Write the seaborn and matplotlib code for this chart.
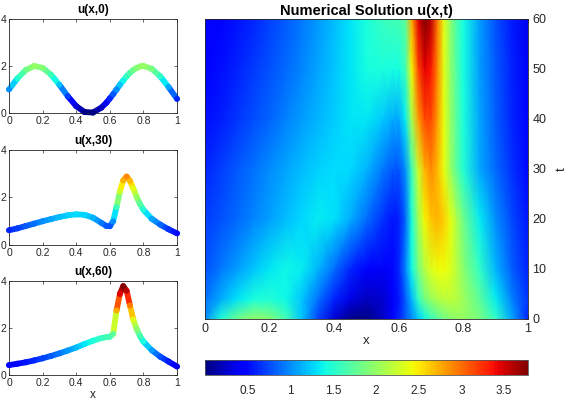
import numpy as np
import pandas as pd
import matplotlib
matplotlib.use('Agg')
import matplotlib.pyplot as plt
import seaborn as sns
from matplotlib.collections import LineCollection

# grid (finer around the peak)
x_grid = [0, 0.05, 0.1, 0.15, 0.2, 0.25, 0.3, 0.35, 0.4, 0.45, 0.5, 0.55, 0.58,
          0.6, 0.62, 0.64, 0.66, 0.68, 0.7, 0.72, 0.74, 0.76, 0.78, 0.8,
          0.85, 0.9, 0.95, 1.0]
t_grid = [0, 4, 10, 20, 30, 40, 50, 60]

# u(x,t) rows, estimated from the profiles and the colour map
u_t0 = [1.00, 1.47, 1.83, 2.00, 1.92, 1.63, 1.20, 0.71, 0.29, 0.04, 0.02, 0.23, 0.44,
        0.62, 0.80, 1.00, 1.20, 1.38, 1.56, 1.71, 1.83, 1.92, 1.98, 2.00,
        1.88, 1.56, 1.10, 0.60]
u_t4 = [0.90, 1.12, 1.32, 1.44, 1.47, 1.40, 1.20, 0.90, 0.60, 0.35, 0.22, 0.28, 0.40,
        0.55, 0.80, 1.15, 1.55, 1.85, 2.02, 2.12, 2.18, 2.20, 2.15, 2.05,
        1.75, 1.35, 0.95, 0.65]
u_t10 = [0.78, 0.93, 1.06, 1.20, 1.33, 1.40, 1.35, 1.15, 0.88, 0.62, 0.42, 0.40, 0.50,
         0.62, 0.95, 1.40, 1.85, 2.15, 2.32, 2.42, 2.42, 2.32, 2.15, 1.95,
         1.55, 1.15, 0.82, 0.60]
u_t20 = [0.70, 0.78, 0.87, 0.97, 1.07, 1.18, 1.28, 1.35, 1.30, 1.12, 0.88, 0.65, 0.56,
         0.58, 0.85, 1.45, 2.05, 2.45, 2.65, 2.72, 2.62, 2.38, 2.10, 1.82,
         1.35, 1.00, 0.75, 0.55]
u_t30 = [0.62, 0.70, 0.80, 0.90, 1.00, 1.09, 1.18, 1.25, 1.29, 1.27, 1.15, 0.93, 0.80,
         0.79, 1.00, 1.60, 2.25, 2.72, 2.88, 2.70, 2.38, 2.02, 1.72, 1.48,
         1.10, 0.86, 0.66, 0.49]
u_t40 = [0.52, 0.59, 0.67, 0.76, 0.85, 0.95, 1.05, 1.15, 1.24, 1.32, 1.33, 1.22, 1.12,
         1.10, 1.35, 2.10, 2.80, 3.15, 3.15, 2.80, 2.38, 2.00, 1.70, 1.45,
         1.08, 0.82, 0.62, 0.44]
u_t50 = [0.46, 0.53, 0.60, 0.68, 0.77, 0.87, 0.97, 1.08, 1.20, 1.32, 1.42, 1.45, 1.42,
         1.42, 1.60, 2.45, 3.15, 3.45, 3.35, 2.88, 2.36, 1.97, 1.67, 1.43,
         1.06, 0.80, 0.60, 0.40]
u_t60 = [0.42, 0.48, 0.54, 0.62, 0.71, 0.81, 0.92, 1.04, 1.17, 1.32, 1.46, 1.57, 1.61,
         1.63, 1.75, 2.75, 3.45, 3.78, 3.58, 2.95, 2.35, 1.95, 1.65, 1.42,
         1.05, 0.78, 0.57, 0.36]

profile_titles = ['u(x,0)', 'u(x,30)', 'u(x,60)']
x_ticks = [0, 0.2, 0.4, 0.6, 0.8, 1]
x_tick_labels = ['0', '0.2', '0.4', '0.6', '0.8', '1']
cbar_ticks = [0.5, 1, 1.5, 2, 2.5, 3, 3.5]
cbar_tick_labels = ['0.5', '1', '1.5', '2', '2.5', '3', '3.5']

sns.set_theme(style='white')
plt.rcParams['font.family'] = ['Liberation Sans', 'DejaVu Sans']
plt.rcParams.update({
    'xtick.direction': 'in', 'ytick.direction': 'in',
    'axes.edgecolor': '#262626', 'axes.linewidth': 0.6,
    'xtick.color': '#262626', 'ytick.color': '#262626',
    'text.color': 'black',
})

jet = plt.get_cmap('jet')
u_grid = np.array([u_t0, u_t4, u_t10, u_t20, u_t30, u_t40, u_t50, u_t60])
norm = plt.Normalize(0, u_grid.max())

fig = plt.figure(figsize=(5.67, 4.04), dpi=100)

# --- left: three profiles coloured by value ---
boxes = [[0.0159, 0.7203, 0.2963, 0.2327],
         [0.0159, 0.3936, 0.2963, 0.2351],
         [0.0159, 0.0718, 0.2963, 0.2327]]
for box, u, ttl in zip(boxes, [u_t0, u_t30, u_t60], profile_titles):
    ax = fig.add_axes(box)
    pts = np.column_stack([x_grid, u])
    segs = np.stack([pts[:-1], pts[1:]], axis=1)
    lc = LineCollection(segs, cmap=jet, norm=norm, linewidths=4.2,
                        capstyle='round', joinstyle='round', clip_on=False)
    lc.set_array((np.array(u[:-1]) + np.array(u[1:])) / 2)
    ax.add_collection(lc)
    df = pd.DataFrame({'x': x_grid, 'u': u})
    sns.scatterplot(data=df, x='x', y='u', hue='u', palette=jet, hue_norm=norm,
                    s=17, linewidth=0, legend=False, ax=ax, clip_on=False, zorder=3)
    ax.set_xlim(0, 1)
    ax.set_ylim(0, 4)
    ax.set_xticks(x_ticks)
    ax.set_xticklabels(x_tick_labels)
    ax.set_yticks([0, 2, 4])
    ax.set_yticklabels(['0', '2', '4'])
    ax.tick_params(labelsize=7.5, length=2.5, width=0.5, pad=2,
                   top=True, right=True, bottom=True, left=True)
    ax.set_title(ttl, fontsize=8.5, fontweight='bold', pad=4)
    ax.set_ylabel('')
    ax.set_xlabel('x' if ttl == 'u(x,60)' else '', fontsize=8.5, labelpad=1)

# --- right: the space-time map ---
ax_main = fig.add_axes([0.3616, 0.2104, 0.5697, 0.7426])
mesh = ax_main.pcolormesh(x_grid, t_grid, u_grid, shading='gouraud', cmap=jet, norm=norm)
ax_main.set_xlim(0, 1)
ax_main.set_ylim(0, 60)
ax_main.set_xticks(x_ticks)
ax_main.set_xticklabels(x_tick_labels)
ax_main.set_yticks(range(0, 61, 10))
ax_main.yaxis.tick_right()
ax_main.yaxis.set_label_position('right')
ax_main.tick_params(labelsize=9, length=3, width=0.5, pad=3,
                    top=True, bottom=True, left=True, right=True,
                    labelleft=False, labelright=True)
ax_main.set_title('Numerical Solution u(x,t)', fontsize=10.5, fontweight='bold', pad=3)
ax_main.set_xlabel('x', fontsize=9.5, labelpad=0)
ax_main.set_ylabel('t', fontsize=9.5, labelpad=7)

# --- colour bar ---
cax = fig.add_axes([0.3616, 0.0718, 0.5697, 0.0371])
cb = fig.colorbar(mesh, cax=cax, orientation='horizontal', ticks=cbar_ticks)
cb.ax.set_xticklabels(cbar_tick_labels)
cb.outline.set_linewidth(0.6)
cb.outline.set_edgecolor('#555555')
cax.tick_params(labelsize=8.5, length=3, width=0.5, direction='in', pad=7)

fig.savefig('out.png', dpi=100)
